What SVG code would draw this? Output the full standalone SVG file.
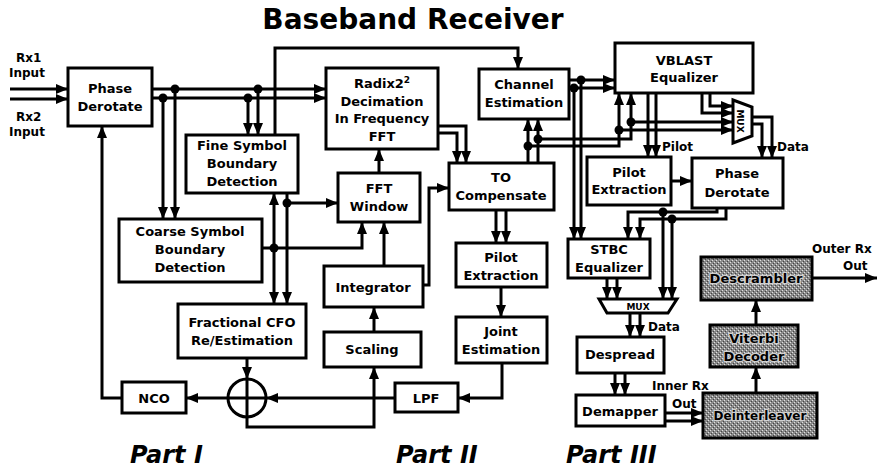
<svg xmlns="http://www.w3.org/2000/svg" width="879" height="473" viewBox="0 0 879 473">
<style>
.b{fill:#fff;stroke:#000;stroke-width:3}
.s{fill:url(#stip);stroke:#000;stroke-width:3}
.t{font-family:"DejaVu Sans",Verdana,sans-serif;font-weight:bold;font-size:13px;text-anchor:middle;fill:#000}
.ts{font-family:"DejaVu Sans",Verdana,sans-serif;font-weight:bold;font-size:13px;text-anchor:middle;fill:#000;stroke:#d0d0d0;stroke-width:2.5;paint-order:stroke}
.l{font-family:"DejaVu Sans",Verdana,sans-serif;font-weight:bold;font-size:12px;fill:#000}
.p{font-family:"DejaVu Sans",Verdana,sans-serif;font-weight:bold;font-style:italic;font-size:24px;fill:#000}
.w{fill:none;stroke:#000;stroke-width:3}
.a{marker-end:url(#ah)}
.d{fill:#000}
</style>
<defs>
<marker id="ah" markerUnits="userSpaceOnUse" viewBox="0 0 12 10" refX="12" refY="5" markerWidth="12" markerHeight="10" orient="auto">
<path d="M0,0 L12,5 L0,10 z" fill="#000"/>
</marker>
<pattern id="stip" width="4" height="4" patternUnits="userSpaceOnUse">
<rect width="4" height="4" fill="#8a8a8a"/>
<rect x="0" y="0" width="1" height="1" fill="#e0e0e0"/>
<rect x="2" y="2" width="1" height="1" fill="#e0e0e0"/>
<rect x="1" y="3" width="1" height="1" fill="#444"/>
<rect x="3" y="1" width="1" height="1" fill="#444"/>
</pattern>
</defs>

<text x="413" y="29" style="font-family:'DejaVu Sans',Verdana,sans-serif;font-weight:bold;font-size:28px;text-anchor:middle">Baseband Receiver</text>

<g id="labels">
<text class="l" x="16" y="62">Rx1</text>
<text class="l" x="9" y="77">Input</text>
<text class="l" x="16" y="121">Rx2</text>
<text class="l" x="9" y="136">Input</text>
<text class="l" x="662" y="151">Pilot</text>
<text class="l" x="777" y="151">Data</text>
<text class="l" x="648" y="331">Data</text>
<text class="l" x="652" y="390">Inner Rx</text>
<text class="l" x="672" y="408">Out</text>
<text class="l" x="812" y="253">Outer Rx</text>
<text class="l" x="843" y="270">Out</text>
<text class="p" x="130" y="463">Part I</text>
<text class="p" x="396" y="463">Part II</text>
<text class="p" x="566" y="463">Part III</text>
</g>

<g id="connectors">
<path class="w a" d="M10,89 H68"/>
<path class="w a" d="M10,99 H68"/>
<path class="w a" d="M152,89 H326"/>
<path class="w a" d="M152,98 H326"/>
<path class="w a" d="M175,89 V219"/>
<path class="w a" d="M163,98 V219"/>
<path class="w a" d="M258,89 V135"/>
<path class="w a" d="M248,98 V135"/>
<path class="w a" d="M275,135 V48 H518 V69"/>
<path class="w a" d="M262,248 H362 V222"/>
<path class="w a" d="M274,248 V193"/>
<path class="w a" d="M274,248 V304"/>
<path class="w a" d="M287,193 V304"/>
<path class="w a" d="M287,203 H338"/>
<path class="w a" d="M379,173 V149"/>
<path class="w a" d="M384,266 V222"/>
<path class="w a" d="M374,332 V307"/>
<path class="w a" d="M423,285 H429 V188 H449"/>
<path class="w a" d="M438,126 H466 V163"/>
<path class="w a" d="M438,133 H457 V163"/>
<path class="w a" d="M496,210 V243"/>
<path class="w a" d="M506,210 V243"/>
<path class="w a" d="M501,287 V317"/>
<path class="w a" d="M502,363 V398 H458"/>
<path class="w a" d="M395,398 H266"/>
<path class="w a" d="M247,358 V379"/>
<path class="w a" d="M228,398 H186"/>
<path class="w a" d="M122,398 H102 V126"/>
<path class="w a" d="M247,417 V427 H374 V367"/>
<path class="w a" d="M528,163 V119"/>
<path class="w a" d="M538,163 V119"/>
<path class="w a" d="M538,139 H631 V122 H733"/>
<path class="w a" d="M631,122 V93"/>
<path class="w a" d="M528,146 H619 V130 H733"/>
<path class="w a" d="M619,130 V93"/>
<path class="w a" d="M569,80 H615"/>
<path class="w a" d="M569,88 H615"/>
<path class="w a" d="M581,80 V239"/>
<path class="w a" d="M574,88 V239"/>
<path class="w a" d="M648,93 V157"/>
<path class="w a" d="M656,93 V157"/>
<path class="w a" d="M702,93 V113 H733"/>
<path class="w a" d="M710,93 V106 H733"/>
<path class="w a" d="M752,117 H772 V158"/>
<path class="w a" d="M752,124 H762 V158"/>
<path class="w a" d="M671,181 H692"/>
<path class="w a" d="M717,208 V212 H628 V239"/>
<path class="w a" d="M726,208 V219 H640 V239"/>
<path class="w a" d="M663,212 V299"/>
<path class="w a" d="M672,219 V299"/>
<path class="w a" d="M607,278 V299"/>
<path class="w a" d="M617,278 V299"/>
<path class="w a" d="M630,313 V337"/>
<path class="w a" d="M640,313 V337"/>
<path class="w a" d="M615,373 V395"/>
<path class="w a" d="M625,373 V395"/>
<path class="w a" d="M665,413 H703"/>
<path class="w a" d="M665,421 H703"/>
<path class="w a" d="M756,393 V367"/>
<path class="w a" d="M756,325 V300"/>
<path class="w a" d="M812,278 H877"/>
<circle class="d" cx="175" cy="89" r="4.5"/>
<circle class="d" cx="163" cy="98" r="4.5"/>
<circle class="d" cx="258" cy="89" r="4.5"/>
<circle class="d" cx="248" cy="98" r="4.5"/>
<circle class="d" cx="274" cy="248" r="4.5"/>
<circle class="d" cx="287" cy="203" r="4.5"/>
<circle class="d" cx="538" cy="139" r="4.5"/>
<circle class="d" cx="528" cy="146" r="4.5"/>
<circle class="d" cx="631" cy="122" r="4.5"/>
<circle class="d" cx="619" cy="130" r="4.5"/>
<circle class="d" cx="581" cy="80" r="4.5"/>
<circle class="d" cx="574" cy="88" r="4.5"/>
<circle class="d" cx="663" cy="212" r="4.5"/>
<circle class="d" cx="672" cy="219" r="4.5"/>
</g>

<g id="phase-derotate-1"><rect class="b" x="68" y="68" width="84" height="58"/><text class="t" x="110" y="93">Phase</text><text class="t" x="110" y="111">Derotate</text></g>
<g id="fine-symbol"><rect class="b" x="186" y="135" width="112" height="58"/><text class="t" x="242" y="150">Fine Symbol</text><text class="t" x="242" y="168">Boundary</text><text class="t" x="242" y="186">Detection</text></g>
<g id="coarse-symbol"><rect class="b" x="119" y="219" width="143" height="63"/><text class="t" x="190" y="236">Coarse Symbol</text><text class="t" x="190" y="254">Boundary</text><text class="t" x="190" y="272">Detection</text></g>
<g id="fractional-cfo"><rect class="b" x="178" y="304" width="128" height="54"/><text class="t" x="242" y="327">Fractional CFO</text><text class="t" x="242" y="345">Re/Estimation</text></g>
<g id="nco"><rect class="b" x="122" y="382" width="64" height="31"/><text class="t" x="154" y="403">NCO</text></g>
<g id="adder"><circle cx="247" cy="398" r="19" fill="#fff" stroke="#000" stroke-width="3"/><path class="w" d="M228,398 H266 M247,379 V417"/></g>
<g id="radix-fft"><rect class="b" x="326" y="68" width="112" height="81"/><text class="t" x="382" y="88">Radix2<tspan dy="-5" font-size="9">2</tspan></text><text class="t" x="382" y="106">Decimation</text><text class="t" x="382" y="123">In Frequency</text><text class="t" x="382" y="141">FFT</text></g>
<g id="fft-window"><rect class="b" x="338" y="173" width="82" height="49"/><text class="t" x="379" y="193">FFT</text><text class="t" x="379" y="211">Window</text></g>
<g id="integrator"><rect class="b" x="324" y="266" width="99" height="41"/><text class="t" x="373" y="292">Integrator</text></g>
<g id="scaling"><rect class="b" x="324" y="332" width="97" height="35"/><text class="t" x="372" y="354">Scaling</text></g>
<g id="lpf"><rect class="b" x="395" y="383" width="63" height="29"/><text class="t" x="426" y="403">LPF</text></g>
<g id="channel-estimation"><rect class="b" x="479" y="69" width="90" height="50"/><text class="t" x="524" y="89">Channel</text><text class="t" x="524" y="107">Estimation</text></g>
<g id="to-compensate"><rect class="b" x="449" y="163" width="105" height="47"/><text class="t" x="501" y="182">TO</text><text class="t" x="501" y="200">Compensate</text></g>
<g id="pilot-extraction-1"><rect class="b" x="456" y="243" width="91" height="44"/><text class="t" x="501" y="262">Pilot</text><text class="t" x="501" y="280">Extraction</text></g>
<g id="joint-estimation"><rect class="b" x="456" y="317" width="91" height="46"/><text class="t" x="501" y="336">Joint</text><text class="t" x="501" y="354">Estimation</text></g>
<g id="vblast"><rect class="b" x="615" y="43" width="138" height="50"/><text class="t" x="684" y="65">VBLAST</text><text class="t" x="684" y="82">Equalizer</text></g>
<g id="mux-1"><polygon class="b" points="733,100 752,107 752,136 733,143"/><text x="740" y="121" transform="rotate(90 740 121)" style="font-family:'DejaVu Sans',sans-serif;font-weight:bold;font-size:9px;text-anchor:middle" dy="3">MUX</text></g>
<g id="pilot-extraction-2"><rect class="b" x="587" y="157" width="84" height="48"/><text class="t" x="629" y="177">Pilot</text><text class="t" x="629" y="194">Extraction</text></g>
<g id="phase-derotate-2"><rect class="b" x="692" y="158" width="91" height="50"/><text class="t" x="737" y="178">Phase</text><text class="t" x="737" y="197">Derotate</text></g>
<g id="stbc"><rect class="b" x="568" y="239" width="82" height="39"/><text class="t" x="609" y="254">STBC</text><text class="t" x="609" y="272">Equalizer</text></g>
<g id="mux-2"><polygon class="b" points="599,299 677,299 668,313 607,313"/><text x="638" y="310" style="font-family:'DejaVu Sans',sans-serif;font-weight:bold;font-size:9px;text-anchor:middle">MUX</text></g>
<g id="despread"><rect class="b" x="577" y="337" width="87" height="36"/><text class="t" x="620" y="359">Despread</text></g>
<g id="demapper"><rect class="b" x="576" y="395" width="89" height="31"/><text class="t" x="620" y="416">Demapper</text></g>
<g id="descrambler"><rect class="s" x="701" y="257" width="111" height="43"/><text class="ts" x="756" y="283">Descrambler</text></g>
<g id="viterbi"><rect class="s" x="710" y="325" width="88" height="42"/><text class="ts" x="754" y="343">Viterbi</text><text class="ts" x="754" y="361">Decoder</text></g>
<g id="deinterleaver"><rect class="s" x="703" y="393" width="114" height="45"/><text class="ts" x="760" y="420" style="font-size:12px">Deinterleaver</text></g>
</svg>
